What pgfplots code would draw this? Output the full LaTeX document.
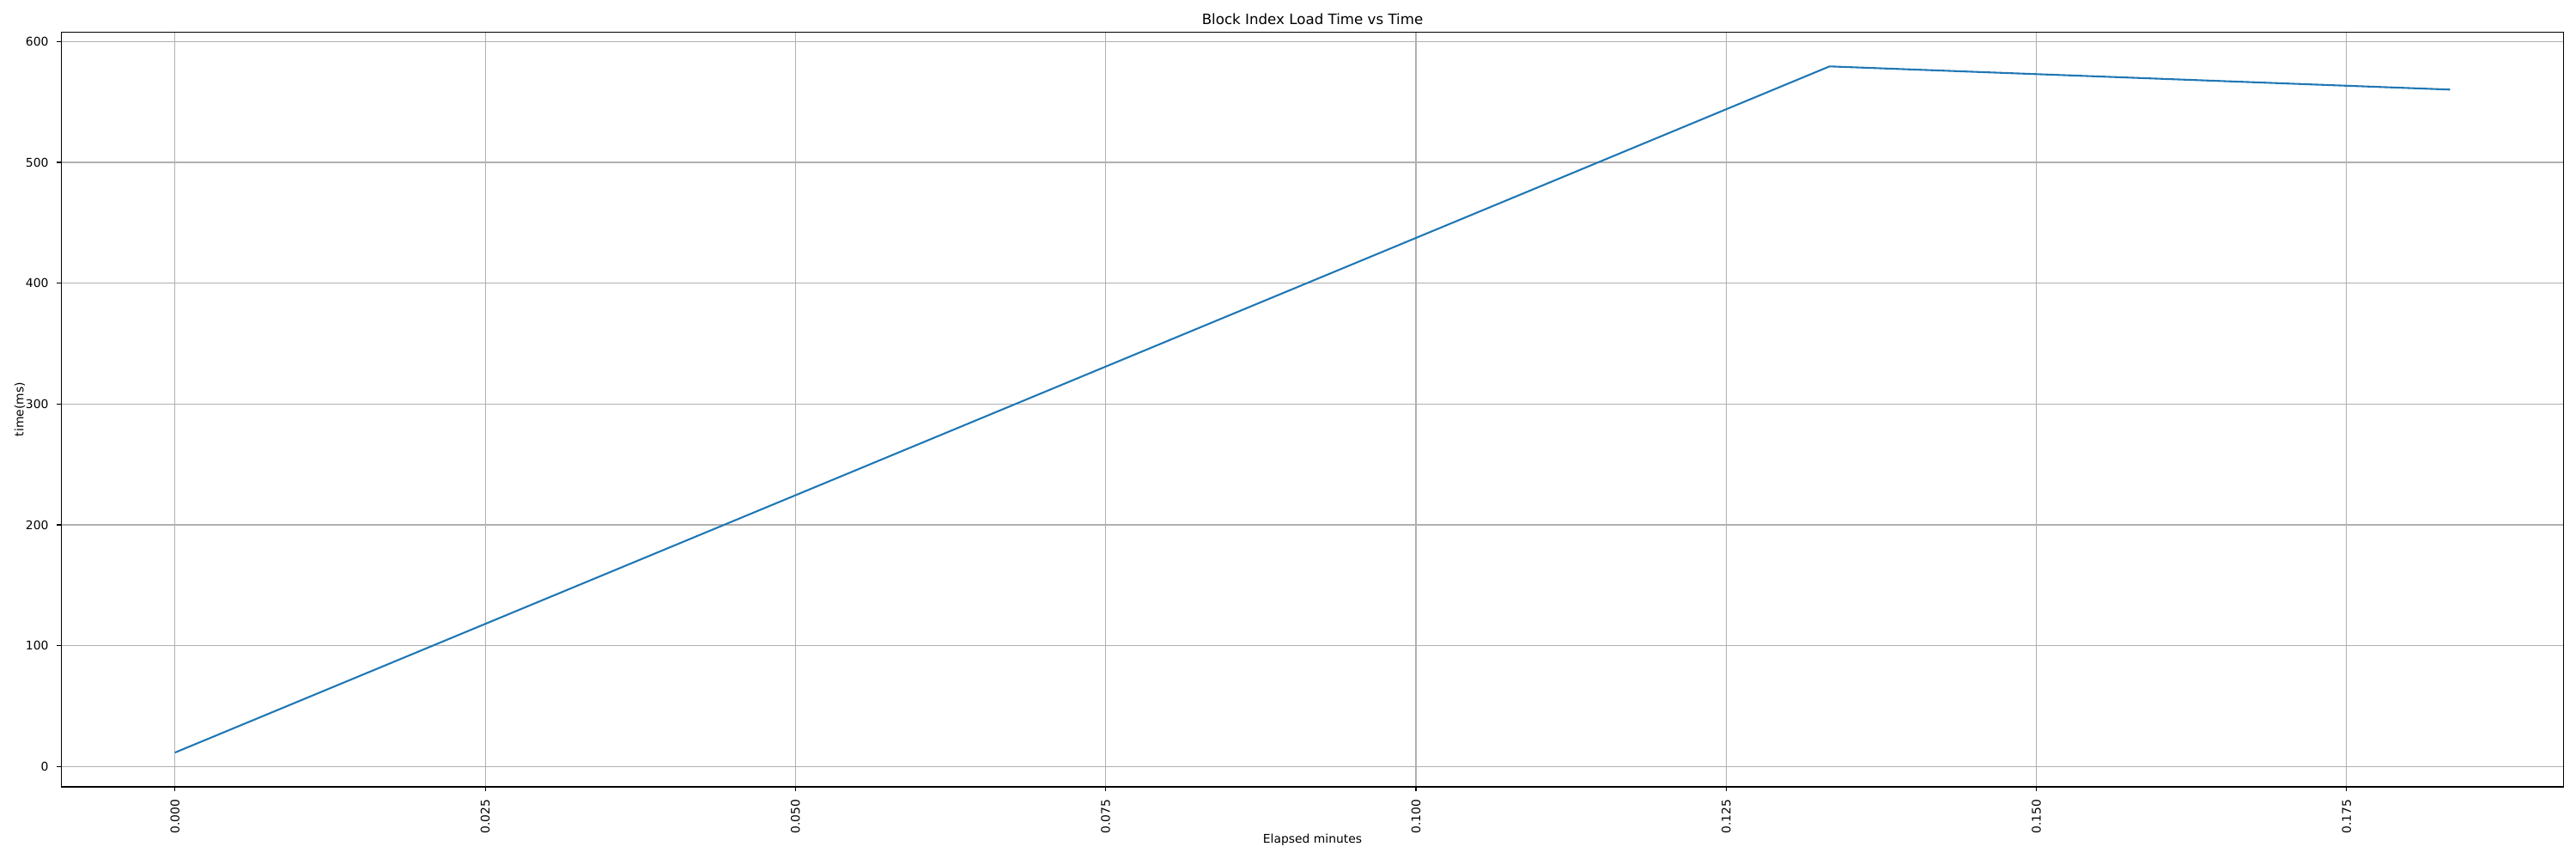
\documentclass[border=0pt]{standalone}
\usepackage{fontspec}
\setmainfont{DejaVu Sans}
\usepackage{pgfplots}
\pgfplotsset{compat=1.18}
\definecolor{mplblue}{HTML}{1F77B4}
\definecolor{gridgray}{HTML}{B0B0B0}
\begin{document}
\begin{tikzpicture}
\path[use as bounding box] (0,0) rectangle (2160pt,720pt);
\begin{axis}[
  at={(51.34pt,60.5pt)}, anchor=south west,
  scale only axis, width=2098.4pt, height=632.6pt,
  xmin=-0.0091667, xmax=0.1925, ymin=-16.85, ymax=607.8,
  axis line style={line width=0.8pt, black},
  xtick={0,0.025,0.05,0.075,0.1,0.125,0.15,0.175},
  ytick={0,100,200,300,400,500,600},
  xtick pos=lower, ytick pos=left,
  tick align=outside, major tick length=3.5pt,
  tick style={line width=0.8pt, black},
  grid=major,
  major grid style={line width=0.8pt, gridgray},
  /pgf/number format/assume math mode=true,
  xticklabel style={/pgf/number format/fixed, /pgf/number format/fixed zerofill, /pgf/number format/precision=3, rotate=90, anchor=east, inner sep=0pt, font=\fontsize{10}{12}\selectfont},
  yticklabel style={anchor=east, inner sep=0pt, font=\fontsize{10}{12}\selectfont},
  xticklabel shift=7pt, yticklabel shift=7pt,
  scaled x ticks=false,
]
\addplot[mplblue, line width=1.5pt, no markers, line join=round] coordinates {
  (0, 11.5)
  (0.133333, 579.4)
  (0.183333, 560.2)
};
\end{axis}
\node[anchor=base, inner sep=0pt, font=\fontsize{12}{14}\selectfont] at (1100.54pt,699.14pt) {Block Index Load Time vs Time};
\node[anchor=base, inner sep=0pt, font=\fontsize{10}{12}\selectfont] at (1100.54pt,13.2pt) {Elapsed minutes};
\node[rotate=90, anchor=south, inner sep=0pt, font=\fontsize{10}{12}\selectfont] at (21.17pt,376.8pt) {time(ms)};
\end{tikzpicture}
\end{document}
